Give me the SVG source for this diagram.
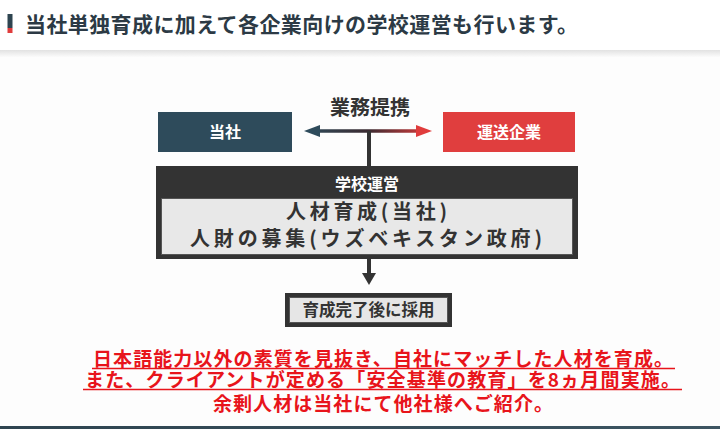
<svg xmlns="http://www.w3.org/2000/svg" width="720" height="429" viewBox="0 0 720 429">
<style>
  text { font-family: "Noto Sans CJK JP", "Noto Sans", sans-serif; font-weight: 700; }
  .title { font-size: 21px; fill: #2c3a45; }
  .white { fill: #ffffff; font-size: 16px; text-anchor: middle; }
  .dark { fill: #333333; text-anchor: middle; }
  .red { fill: #e8141b; font-size: 19px; text-anchor: middle; }
  .uline { stroke: #e8141b; stroke-width: 1.4; }
</style>
<defs>
  <linearGradient id="shadow" x1="0" y1="0" x2="0" y2="1">
    <stop offset="0" stop-color="#e2e2e2"/>
    <stop offset="1" stop-color="#fbfbfb"/>
  </linearGradient>
  <linearGradient id="link" x1="304" y1="0" x2="432" y2="0" gradientUnits="userSpaceOnUse">
    <stop offset="0" stop-color="#2e4b5b"/>
    <stop offset="0.5" stop-color="#3b2b31"/>
    <stop offset="1" stop-color="#e03c3c"/>
  </linearGradient>
  <linearGradient id="foot" x1="0" y1="0" x2="1" y2="0">
    <stop offset="0" stop-color="#2e4450"/>
    <stop offset="1" stop-color="#3d5562"/>
  </linearGradient>
</defs>

<rect x="0" y="0" width="720" height="429" fill="#fdfdfd"/>
<g id="header">
  <rect x="0" y="0" width="720" height="50" fill="#ffffff"/>
  <rect x="0" y="50" width="720" height="7" fill="url(#shadow)"/>
  <rect x="7.5" y="14" width="5" height="14" fill="#2e4450"/>
  <rect x="7.5" y="28" width="5" height="5" fill="#e03c3c"/>
  <text class="title" x="25" y="32" textLength="553">当社単独育成に加えて各企業向けの学校運営も行います。</text>
</g>

<g id="connectors">
  <line x1="318" y1="131" x2="418" y2="131" stroke="url(#link)" stroke-width="3.5"/>
  <polygon points="304,131 320,125 320,137" fill="#2e4b5b"/>
  <polygon points="432,131 416,125 416,137" fill="#e03c3c"/>
  <line x1="369" y1="131" x2="369" y2="167" stroke="#333333" stroke-width="4"/>
  <line x1="369" y1="259" x2="369" y2="274" stroke="#333333" stroke-width="4"/>
  <polygon points="362,273 376,273 369,285" fill="#333333"/>
</g>

<g id="label-gyomu">
  <text class="dark" x="370" y="115" font-size="20">業務提携</text>
</g>

<g id="node-tousha">
  <rect x="158" y="112" width="134" height="40" fill="#2e4b5b"/>
  <text class="white" x="225" y="138">当社</text>
</g>

<g id="node-unso">
  <rect x="443" y="112" width="132" height="40" fill="#e03e3e"/>
  <text class="white" x="509" y="138">運送企業</text>
</g>

<g id="node-school">
  <rect x="156" y="166" width="422" height="93" fill="#333333"/>
  <text class="white" x="367" y="190">学校運営</text>
  <rect x="161.5" y="198.5" width="411" height="56" fill="#e8e8e8" stroke="#555555" stroke-width="1"/>
  <text class="dark" x="366.5" y="219" font-size="20" textLength="161">人材育成(当社)</text>
  <text class="dark" x="366" y="246" font-size="20" textLength="352">人財の募集(ウズベキスタン政府)</text>
</g>

<g id="node-hire">
  <rect x="285" y="293" width="167" height="34" fill="#333333"/>
  <rect x="289.5" y="297.5" width="158" height="25" fill="#e6e6e6" stroke="#555555" stroke-width="1"/>
  <text class="dark" x="368.5" y="316" font-size="16.5">育成完了後に採用</text>
</g>

<g id="note">
  <text class="red" x="383" y="365.5" textLength="580">日本語能力以外の素質を見抜き、自社にマッチした人材を育成。</text>
  <line class="uline" x1="92" y1="368.5" x2="675" y2="368.5"/>
  <text class="red" x="382.5" y="386.5" textLength="595">また、クライアントが定める「安全基準の教育」を8ヵ月間実施。</text>
  <line class="uline" x1="83" y1="389.5" x2="682" y2="389.5"/>
  <text class="red" x="383" y="411" textLength="340">余剰人材は当社にて他社様へご紹介。</text>
</g>

<rect x="0" y="426" width="720" height="3" fill="url(#foot)"/>
</svg>
